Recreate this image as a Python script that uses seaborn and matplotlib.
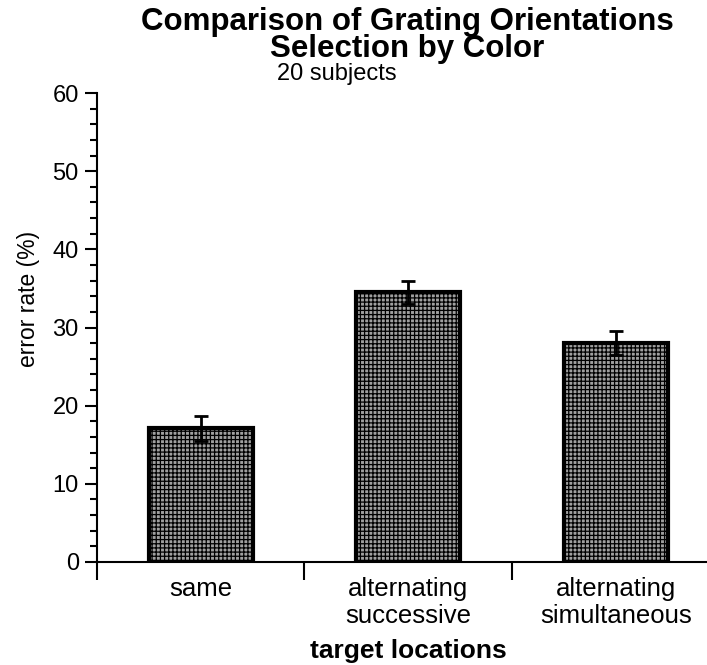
import matplotlib
matplotlib.use("Agg")
import matplotlib.pyplot as plt
import seaborn as sns
import pandas as pd
from matplotlib.ticker import MultipleLocator, FixedLocator

# data
conditions = ["same", "alternating\nsuccessive", "alternating\nsimultaneous"]
error_rate = [17.1, 34.5, 28.0]
sem = [1.6, 1.5, 1.5]

df = pd.DataFrame({"condition": conditions, "error": error_rate})

sns.set_style("ticks")
plt.rcParams["font.family"] = ["Liberation Sans", "DejaVu Sans"]
plt.rcParams["hatch.linewidth"] = 0.9
plt.rcParams["hatch.color"] = "black"
for key in ["text.color", "axes.labelcolor", "xtick.color", "ytick.color", "axes.edgecolor"]:
    plt.rcParams[key] = "black"

fig = plt.figure(figsize=(7.07, 6.65), dpi=100)
ax = fig.add_axes([0.137, 0.155, 0.863, 0.705])

sns.barplot(data=df, x="condition", y="error", color="#a0a0a0", width=0.5,
            edgecolor="black", linewidth=3, hatch="++++", ax=ax,
            errorbar=None, saturation=1)
ax.errorbar(range(len(conditions)), error_rate, yerr=sem, fmt="none",
            ecolor="black", elinewidth=2, capsize=5, capthick=2, zorder=5)

ax.set_xlim(-0.5, 2.44)
ax.set_ylim(0, 60)
ax.yaxis.set_major_locator(MultipleLocator(10))
ax.yaxis.set_minor_locator(MultipleLocator(2))
ax.tick_params(axis="y", which="major", length=9, width=1.5, labelsize=17, pad=4)
ax.tick_params(axis="y", which="minor", length=5, width=1.5)
ax.tick_params(axis="x", which="major", length=0, labelsize=18.5, pad=11)
ax.xaxis.set_minor_locator(FixedLocator([-0.5, 0.5, 1.5]))
ax.tick_params(axis="x", which="minor", length=13, width=1.5)
for lab in ax.get_xticklabels():
    lab.set_linespacing(1.15)

sns.despine(ax=ax, top=True, right=True)
ax.spines["left"].set_linewidth(1.5)
ax.spines["bottom"].set_linewidth(1.5)

ax.set_ylabel("error rate (%)", fontsize=16.5)
ax.yaxis.set_label_coords(-0.093, 0.562)
ax.set_xlabel("target locations", fontsize=19, fontweight="bold")
ax.xaxis.set_label_coords(0.51, -0.165)

fig.text(0.576, 0.99, "Comparison of Grating Orientations\nSelection by Color",
         ha="center", va="top", fontsize=22.5, fontweight="bold", linespacing=0.9)
fig.text(0.477, 0.888, "20 subjects", ha="center", va="center", fontsize=17)

fig.savefig("out.png", dpi=100)
